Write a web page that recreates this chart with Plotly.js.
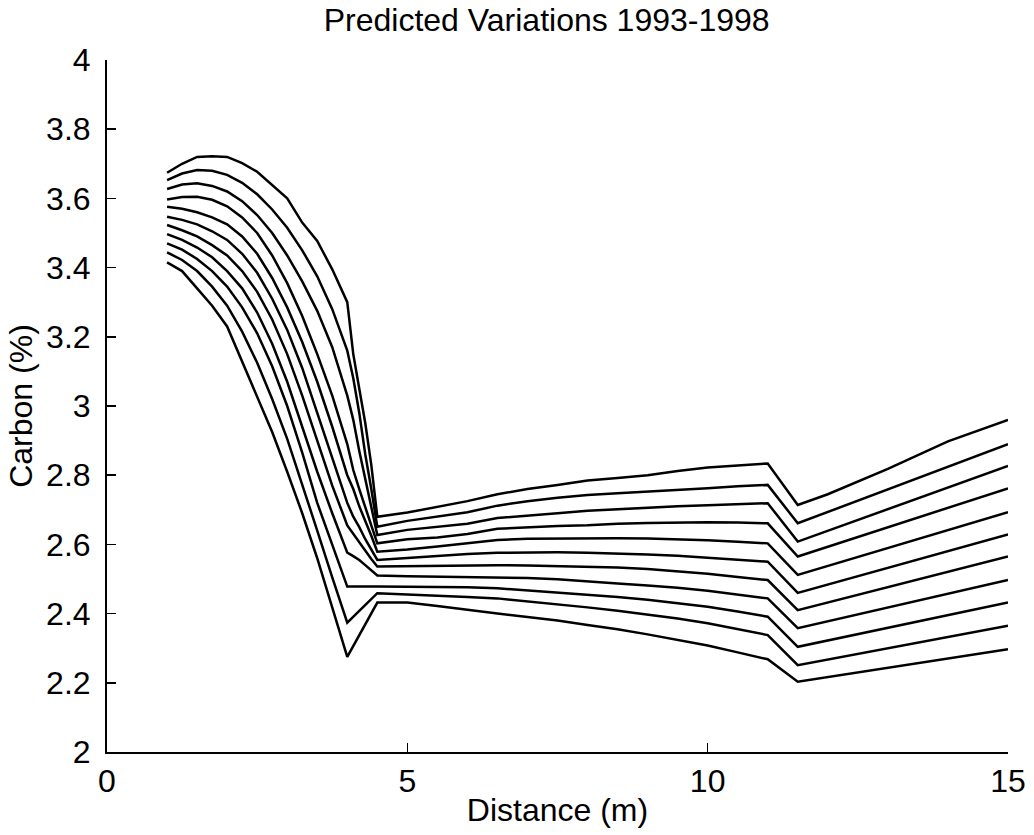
<!DOCTYPE html>
<html>
<head>
<meta charset="utf-8">
<script src="https://cdn.plot.ly/plotly-3.0.1.min.js"></script>
<style>
  html, body { margin: 0; padding: 0; background: #ffffff; }
  #chart { width: 1034px; height: 835px; }
</style>
</head>
<body>
<div id="chart"></div>
<script>
// Distance (m) sample positions shared by all curves
const distance = [1,1.25,1.5,1.75,2,2.25,2.5,2.75,3,3.25,3.5,3.75,4,4.1,4.2,4.3,4.4,4.5,5,5.5,6,6.5,7,7.5,8,8.5,9,9.5,10,10.5,11,11.5,12,13,14,15];

// Carbon (%) curves, top to bottom (null = no separate vertex, straight segment)
const carbon01 = [3.674,3.700,3.720,3.722,3.720,3.702,3.677,3.638,3.600,3.530,3.477,3.395,3.300, 3.150,3.050,2.950,2.830,2.680, 2.692,2.708,2.725,2.745,2.760,2.772,2.785,2.792,2.800,2.812,2.822,2.828,2.834, 2.714,2.745,2.818,2.898,2.960];
const carbon02 = [3.653,3.672,3.682,3.680,3.668,3.645,3.612,3.568,3.515,3.450,3.375,3.280,3.160, 3.080,2.980,2.860,2.760,2.651, 2.668,2.680,2.693,2.712,2.725,2.735,2.743,2.748,2.752,2.756,2.762,2.768,2.772, 2.661,null,null,null,2.890];
const carbon03 = [3.627,3.640,3.644,3.636,3.620,3.592,3.552,3.500,3.435,3.360,3.275,3.170,3.030, 2.960,2.870,2.790,2.710,2.627, 2.642,2.650,2.660,2.676,2.684,2.690,2.697,2.702,2.706,2.710,2.713,2.716,2.719, 2.608,null,null,null,2.827];
const carbon04 = [3.597,3.604,3.605,3.596,3.577,3.545,3.500,3.435,3.355,3.260,3.150,3.030,2.890, 2.815,2.760,2.710,2.655,2.603, 2.615,2.620,2.630,2.645,2.650,2.653,2.655,2.660,2.662,2.664,2.664,2.663,2.661, 2.565,null,null,null,2.762];
const carbon05 = [3.576,3.570,3.560,3.545,3.525,3.490,3.440,3.370,3.285,3.185,3.070,2.940,2.800, 2.760,2.710,2.670,2.625,2.579, 2.585,2.594,2.604,2.613,2.616,2.617,2.617,2.618,2.617,2.615,2.612,2.608,2.603, 2.512,null,null,null,2.693];
const carbon06 = [3.547,3.538,3.525,3.505,3.480,3.440,3.385,3.310,3.220,3.110,2.980,2.850,2.720, 2.680,2.650,2.615,2.585,2.555, 2.561,2.567,2.572,2.576,2.577,2.577,2.576,2.574,2.571,2.567,2.562,2.556,2.550, 2.460,null,null,null,2.629];
const carbon07 = [3.523,3.508,3.490,3.465,3.435,3.390,3.330,3.250,3.150,3.030,2.900,2.770,2.655, 2.630,2.605,2.580,2.558,2.536, 2.537,2.539,2.540,2.540,2.539,2.537,2.536,2.533,2.529,2.523,2.515,2.506,2.497, 2.410,null,null,null,2.565];
const carbon08 = [3.497,3.480,3.458,3.430,3.390,3.340,3.270,3.180,3.070,2.940,2.810,2.690,2.576, 2.566,2.555,2.540,2.525,2.510, 2.508,2.507,2.507,2.506,2.503,2.499,2.494,2.487,2.481,2.475,2.466,2.456,2.444, 2.358,null,null,null,2.497];
const carbon09 = [3.470,3.452,3.425,3.390,3.345,3.285,3.210,3.115,3.000,2.865,2.720,2.600,2.478, null,null,null,null,2.478, 2.478,2.478,2.476,2.473,2.467,2.462,2.456,2.448,2.440,2.431,2.420,2.406,2.391, 2.304,null,null,null,2.432];
const carbon10 = [3.444,3.422,3.390,3.345,3.290,3.215,3.125,3.020,2.905,2.775,2.640,2.505,2.374, null,null,null,null,2.459, 2.456,2.451,2.448,2.444,2.436,2.428,2.418,2.408,2.398,2.386,2.372,2.356,2.338, 2.251,null,null,null,2.365];
const carbon11 = [3.415,3.390,3.340,3.290,3.230,3.130,3.030,2.925,2.810,2.690,2.560,2.415,2.275, null,null,null,null,2.432, 2.432,2.422,2.410,2.400,2.390,2.380,2.367,2.355,2.340,2.325,2.308,2.288,2.268, 2.203,null,null,null,2.297];

const curves = [carbon01,carbon02,carbon03,carbon04,carbon05,carbon06,carbon07,carbon08,carbon09,carbon10,carbon11];

const yTicks = [2,2.2,2.4,2.6,2.8,3,3.2,3.4,3.6,3.8,4];
const yTickText = ['2','2.2','2.4','2.6','2.8','3','3.2','3.4','3.6','3.8','4'];
const xTicks = [0,5,10,15];
const xTickText = ['0','5','10','15'];

const FONT = 'Liberation Sans, Arial, Helvetica, sans-serif';
const FS = 32;

const traces = curves.map(function (ys) {
  return {
    x: distance,
    y: ys,
    type: 'scatter',
    mode: 'lines',
    connectgaps: true,
    line: { color: '#000000', width: 2.5 },
    hoverinfo: 'skip',
    showlegend: false
  };
});

const layout = {
  width: 1034,
  height: 835,
  paper_bgcolor: '#ffffff',
  plot_bgcolor: '#ffffff',
  margin: { l: 107, r: 26, t: 60, b: 83, pad: 0 },
  showlegend: false,
  font: { family: FONT, size: FS, color: '#000000' },
  title: {
    text: 'Predicted Variations 1993-1998',
    font: { family: FONT, size: FS, color: '#000000' },
    x: 0.488, xref: 'paper', xanchor: 'center',
    y: 0.976, yref: 'container', yanchor: 'middle'
  },
  xaxis: {
    range: [0, 15],
    tickvals: xTicks,
    ticktext: xTickText,
    ticks: 'inside',
    ticklen: 9,
    tickwidth: 1.5,
    tickcolor: '#000000',
    showline: true,
    linecolor: '#000000',
    linewidth: 2,
    showgrid: false,
    zeroline: false,
    mirror: false,
    ticklabelstandoff: 0,
    tickfont: { family: FONT, size: FS, color: '#000000' },
    title: { text: 'Distance (m)', font: { family: FONT, size: FS, color: '#000000' }, standoff: 0 },
    fixedrange: true
  },
  yaxis: {
    range: [2, 4],
    tickvals: yTicks,
    ticktext: yTickText,
    ticks: 'inside',
    ticklen: 9,
    tickwidth: 1.5,
    tickcolor: '#000000',
    showline: true,
    linecolor: '#000000',
    linewidth: 2,
    showgrid: false,
    zeroline: false,
    mirror: false,
    ticklabelstandoff: 8,
    tickfont: { family: FONT, size: FS, color: '#000000' },
    title: { text: 'Carbon (%)', font: { family: FONT, size: FS, color: '#000000' }, standoff: 4 },
    fixedrange: true
  }
};

Plotly.newPlot('chart', traces, layout, { staticPlot: true, displayModeBar: false });
</script>
</body>
</html>
